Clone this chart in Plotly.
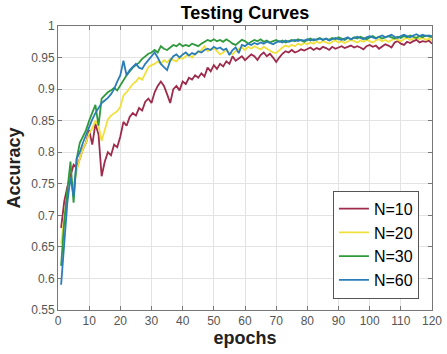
import plotly.graph_objects as go

epochs = list(range(1, 121))

acc_n10 = [0.680,0.722,0.745,0.765,0.780,0.775,0.790,0.805,0.815,0.835,
           0.812,0.845,0.828,0.762,0.785,0.800,0.795,0.812,0.808,0.825,
           0.848,0.842,0.856,0.862,0.858,0.870,0.866,0.880,0.885,0.878,
           0.895,0.905,0.912,0.905,0.892,0.878,0.900,0.905,0.898,0.912,
           0.908,0.918,0.915,0.922,0.918,0.925,0.920,0.934,0.928,0.938,
           0.932,0.940,0.936,0.944,0.940,0.952,0.945,0.948,0.952,0.946,
           0.950,0.955,0.952,0.946,0.954,0.958,0.952,0.956,0.950,0.943,
           0.950,0.956,0.960,0.958,0.962,0.958,0.960,0.963,0.961,0.964,
           0.966,0.962,0.965,0.963,0.967,0.965,0.962,0.967,0.964,0.966,
           0.968,0.965,0.967,0.969,0.966,0.968,0.966,0.963,0.968,0.970,
           0.967,0.969,0.964,0.968,0.971,0.969,0.966,0.974,0.976,0.972,
           0.970,0.975,0.973,0.976,0.978,0.974,0.976,0.975,0.977,0.972]

acc_n20 = [0.655,0.700,0.735,0.760,0.748,0.770,0.790,0.805,0.815,0.830,
           0.838,0.850,0.842,0.818,0.835,0.852,0.858,0.862,0.865,0.872,
           0.890,0.895,0.902,0.908,0.912,0.918,0.915,0.925,0.935,0.938,
           0.940,0.944,0.940,0.946,0.942,0.948,0.946,0.944,0.950,0.948,
           0.952,0.955,0.950,0.956,0.958,0.962,0.968,0.960,0.963,0.965,
           0.960,0.955,0.958,0.962,0.958,0.955,0.960,0.964,0.966,0.962,
           0.967,0.964,0.968,0.965,0.963,0.967,0.964,0.962,0.958,0.957,
           0.962,0.966,0.969,0.967,0.970,0.968,0.972,0.970,0.973,0.971,
           0.974,0.972,0.975,0.973,0.976,0.974,0.972,0.975,0.977,0.974,
           0.976,0.973,0.975,0.978,0.976,0.974,0.977,0.975,0.978,0.976,
           0.974,0.977,0.979,0.976,0.978,0.975,0.977,0.980,0.978,0.976,
           0.979,0.981,0.978,0.980,0.982,0.979,0.981,0.978,0.980,0.977]

acc_n30 = [0.620,0.690,0.740,0.785,0.720,0.790,0.815,0.825,0.835,0.850,
           0.862,0.875,0.842,0.885,0.890,0.895,0.898,0.902,0.898,0.906,
           0.915,0.922,0.928,0.934,0.938,0.942,0.948,0.952,0.956,0.958,
           0.962,0.958,0.968,0.964,0.962,0.966,0.970,0.968,0.972,0.968,
           0.970,0.968,0.972,0.970,0.968,0.972,0.975,0.978,0.976,0.979,
           0.976,0.978,0.975,0.979,0.976,0.972,0.970,0.974,0.978,0.976,
           0.972,0.975,0.978,0.976,0.979,0.975,0.977,0.974,0.976,0.978,
           0.975,0.977,0.974,0.976,0.978,0.976,0.979,0.977,0.975,0.978,
           0.980,0.977,0.979,0.981,0.978,0.980,0.978,0.981,0.979,0.982,
           0.980,0.978,0.981,0.979,0.982,0.980,0.983,0.981,0.979,0.982,
           0.984,0.981,0.983,0.980,0.982,0.984,0.982,0.980,0.983,0.981,
           0.984,0.982,0.985,0.983,0.981,0.984,0.982,0.985,0.983,0.982]

acc_n60 = [0.590,0.660,0.720,0.760,0.730,0.790,0.800,0.815,0.828,0.840,
           0.852,0.862,0.870,0.878,0.882,0.886,0.892,0.900,0.912,0.922,
           0.945,0.922,0.930,0.935,0.940,0.934,0.932,0.940,0.946,0.952,
           0.958,0.950,0.940,0.935,0.930,0.945,0.952,0.955,0.950,0.955,
           0.958,0.953,0.957,0.955,0.960,0.958,0.962,0.964,0.962,0.967,
           0.964,0.966,0.962,0.964,0.954,0.962,0.966,0.957,0.970,0.968,
           0.972,0.970,0.973,0.971,0.974,0.972,0.975,0.973,0.971,0.974,
           0.976,0.974,0.977,0.975,0.977,0.978,0.976,0.978,0.977,0.979,
           0.977,0.979,0.978,0.980,0.978,0.980,0.977,0.979,0.981,0.979,
           0.978,0.980,0.982,0.979,0.981,0.983,0.981,0.979,0.982,0.984,
           0.982,0.980,0.983,0.985,0.982,0.984,0.986,0.983,0.981,0.984,
           0.986,0.984,0.982,0.985,0.987,0.984,0.986,0.984,0.985,0.984]

series_names = ["N=10", "N=20", "N=30", "N=60"]
series_values = [acc_n10, acc_n20, acc_n30, acc_n60]
colors = ["#9E2A4C", "#F0E03C", "#2E9A3C", "#2A7DB8"]

x_ticks = list(range(0, 121, 10))
y_ticks = [0.55, 0.6, 0.65, 0.7, 0.75, 0.8, 0.85, 0.9, 0.95, 1.0]
y_tick_labels = ["0.55", "0.6", "0.65", "0.7", "0.75", "0.8", "0.85", "0.9", "0.95", "1"]

FONT = "Arial, Liberation Sans, sans-serif"

fig = go.Figure()
for name, vals, col in zip(series_names, series_values, colors):
    fig.add_trace(go.Scatter(x=epochs, y=vals, mode="lines", name=name,
                             line=dict(color=col, width=1.8)))

axis_common = dict(showline=True, linecolor="#777777", linewidth=1, mirror="ticks",
                   ticks="inside", ticklen=4, tickcolor="#777777",
                   showgrid=True, gridcolor="#e3e3e3", gridwidth=1, zeroline=False,
                   automargin=False,
                   tickfont=dict(family=FONT, size=12, color="#555555"))

fig.update_layout(
    width=447, height=354,
    margin=dict(l=58, r=15, t=26, b=44),
    paper_bgcolor="white", plot_bgcolor="white",
    title=dict(text="<b>Testing Curves</b>", x=0.5, xanchor="center", xref="paper",
               y=0.981, yanchor="top", pad=dict(t=0, b=0),
               font=dict(family=FONT, size=18, color="black")),
    xaxis=dict(range=[0, 120], tickvals=x_ticks,
               title=dict(text="<b>epochs</b>", standoff=3,
                          font=dict(family=FONT, size=18, color="#222222")),
               **axis_common),
    yaxis=dict(range=[0.55, 1.0], tickvals=y_ticks, ticktext=y_tick_labels,
               title=dict(text="<b>Accuracy</b>", standoff=5,
                          font=dict(family=FONT, size=18, color="#222222")),
               **axis_common),
    legend=dict(x=0.965, y=0.04, xanchor="right", yanchor="bottom",
                bgcolor="white", bordercolor="#555555", borderwidth=1,
                font=dict(family=FONT, size=16, color="black"),
                itemwidth=30, tracegroupgap=0),
    showlegend=True,
)

# remove the default 8px page margin so the 447x354 figure fills the window exactly
fig.write_html(
    "out.html",
    config={"displayModeBar": False},
    post_script="document.documentElement.style.margin='0';document.body.style.margin='0';"
                "document.body.style.overflow='hidden';",
)
